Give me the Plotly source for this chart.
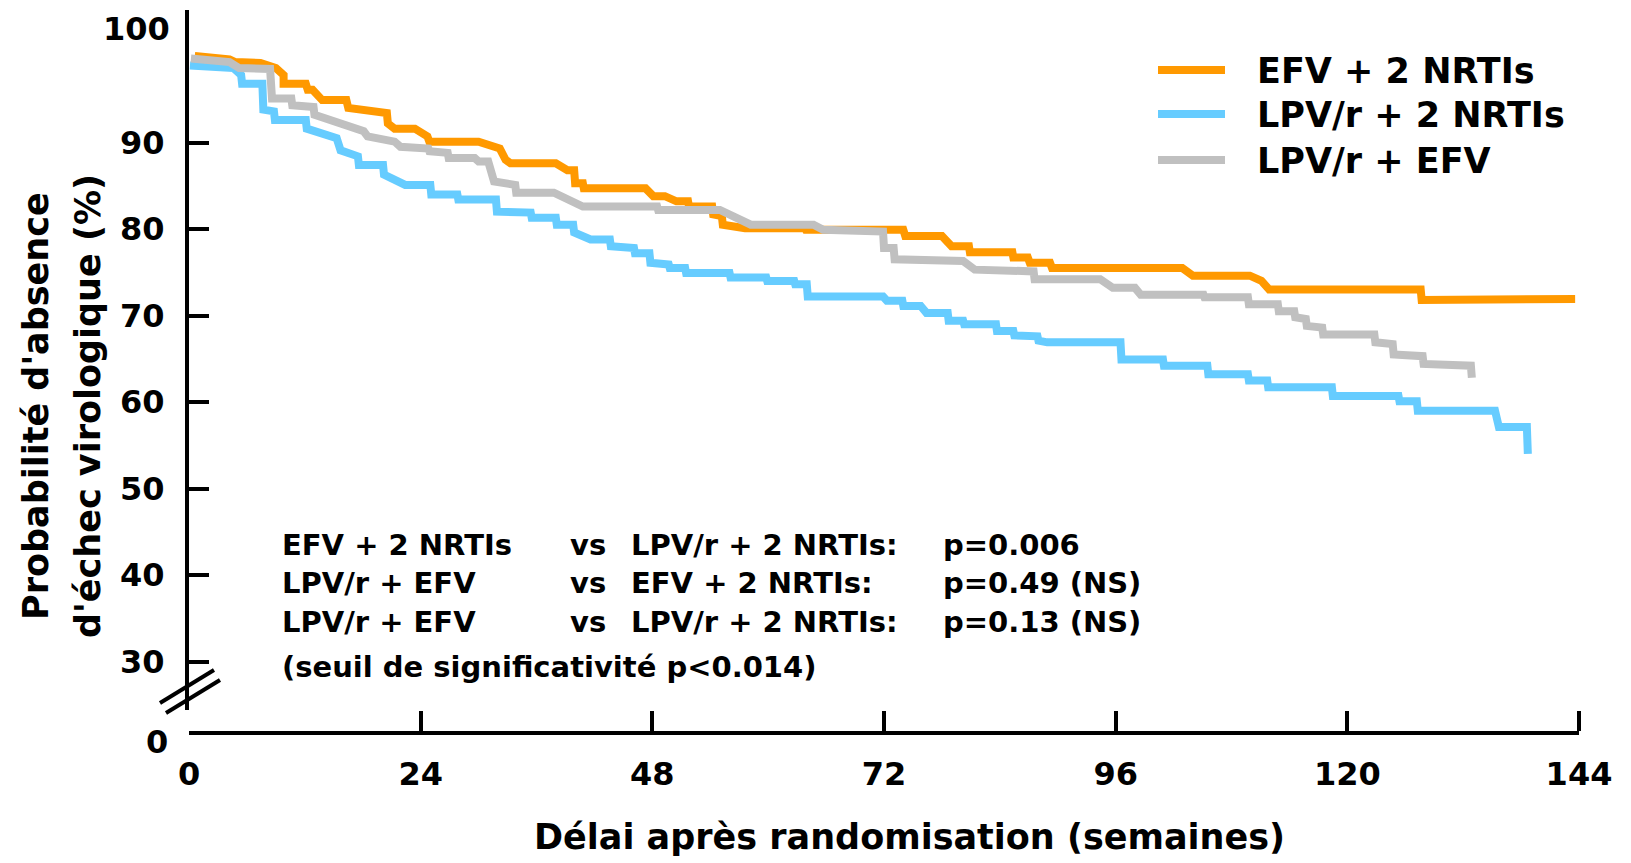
import plotly.graph_objects as go

# ---------------- data ----------------
efv_weeks = [0.6, 4.2, 4.8, 7.4, 9.0, 9.8, 9.8, 12.1, 12.3, 12.8, 13.8, 16.3, 16.5, 18.5, 20.5, 20.6, 21.3,
             23.4, 24.7, 24.9, 30.0, 32.2, 32.8, 33.3, 38.0, 39.2, 39.9, 40.0, 40.8, 40.9, 47.3, 48.1, 49.3,
             50.5, 51.7, 51.8, 54.2, 54.3, 55.2, 55.3, 57.6, 63.8, 63.9, 74.0, 74.2, 78.0, 79.0, 80.8, 80.9,
             85.3, 85.4, 86.9, 87.1, 89.2, 89.4, 102.9, 104.0, 109.9, 111.1, 111.9, 127.6, 127.7, 143.6]
efv_surv = [100.0, 99.6, 99.3, 99.2, 98.6, 97.8, 96.8, 96.8, 96.1, 96.1, 94.9, 94.9, 94.0, 93.6, 93.4, 92.2, 91.6,
            91.6, 90.7, 90.1, 90.1, 89.3, 88.0, 87.6, 87.6, 86.8, 86.8, 85.3, 85.3, 84.7, 84.7, 83.8, 83.8,
            83.2, 83.2, 82.6, 82.6, 81.7, 81.5, 80.5, 80.1, 80.1, 79.9, 79.9, 79.2, 79.2, 78.0, 78.0, 77.3,
            77.3, 76.7, 76.7, 76.1, 76.1, 75.5, 75.5, 74.6, 74.6, 74.0, 73.0, 73.0, 71.8, 71.9]

lpv_nrti_weeks = [0.1, 4.6, 5.4, 5.5, 7.6, 7.7, 8.8, 8.9, 12.1, 12.2, 15.3, 15.7, 17.5, 17.6, 20.1, 20.2, 22.4,
                  25.0, 25.1, 27.8, 27.9, 31.8, 31.9, 35.4, 35.5, 38.0, 38.1, 39.8, 39.9, 41.6, 43.6, 43.7,
                  46.1, 46.2, 47.7, 47.8, 49.7, 49.8, 51.4, 51.5, 56.0, 56.1, 59.8, 59.9, 62.7, 62.8, 64.0,
                  64.1, 71.9, 72.3, 73.9, 74.0, 75.8, 76.4, 78.6, 78.7, 80.2, 80.3, 83.6, 83.7, 85.4, 85.5,
                  87.9, 88.0, 88.9, 96.5, 96.6, 100.9, 101.0, 105.5, 105.6, 109.7, 109.8, 111.7, 111.8,
                  118.4, 118.5, 125.3, 125.4, 127.2, 127.3, 135.3, 135.7, 138.6, 138.7]
lpv_nrti_surv = [98.9, 98.6, 97.8, 96.8, 96.8, 93.8, 93.6, 92.6, 92.6, 91.6, 90.5, 89.1, 88.4, 87.4, 87.4, 86.3,
                 85.1, 85.1, 84.0, 84.0, 83.4, 83.4, 82.0, 81.9, 81.3, 81.3, 80.5, 80.5, 79.6, 78.8, 78.8,
                 78.0, 77.8, 77.2, 77.2, 76.1, 75.9, 75.5, 75.5, 74.9, 74.9, 74.4, 74.4, 74.0, 74.0, 73.6,
                 73.6, 72.2, 72.2, 71.7, 71.7, 71.1, 71.1, 70.3, 70.3, 69.4, 69.4, 69.0, 69.0, 68.2, 68.2,
                 67.7, 67.6, 67.1, 66.9, 66.9, 64.9, 64.9, 64.2, 64.2, 63.2, 63.2, 62.5, 62.5, 61.7, 61.7,
                 60.7, 60.7, 60.1, 60.1, 59.0, 59.0, 57.1, 57.1, 54.0]

lpv_efv_weeks = [0.2, 4.2, 5.2, 8.4, 8.6, 10.6, 10.7, 12.9, 13.0, 14.1, 18.1, 18.5, 21.3, 21.9, 24.8, 24.9,
                 26.8, 26.9, 29.6, 30.0, 31.0, 31.6, 33.8, 33.9, 37.8, 40.8, 48.5, 48.6, 55.0, 58.2, 64.7,
                 65.7, 71.9, 72.0, 73.0, 73.1, 80.2, 81.4, 87.5, 87.6, 94.4, 95.7, 98.0, 98.6, 105.1, 105.2,
                 109.7, 109.8, 112.8, 112.9, 114.5, 114.6, 115.7, 115.8, 117.4, 117.5, 122.8, 122.9, 124.7,
                 124.8, 127.8, 127.9, 132.8, 132.9]
lpv_efv_surv = [99.7, 99.3, 98.6, 98.5, 95.1, 95.1, 94.3, 94.1, 93.2, 92.8, 91.3, 90.7, 90.1, 89.5, 89.3, 89.0,
                88.8, 88.2, 88.2, 87.8, 87.8, 85.5, 85.1, 84.2, 84.2, 82.6, 82.6, 82.2, 82.2, 80.5, 80.5,
                79.9, 79.7, 77.8, 77.8, 76.5, 76.3, 75.3, 75.1, 74.2, 74.2, 73.2, 73.2, 72.4, 72.4, 72.1,
                72.1, 71.3, 71.3, 70.5, 70.5, 69.8, 69.6, 68.8, 68.6, 67.8, 67.8, 66.9, 66.7, 65.5, 65.3,
                64.4, 64.2, 62.8]

series_names = ["EFV + 2 NRTIs", "LPV/r + 2 NRTIs", "LPV/r + EFV"]
series_colors = ["#FF9900", "#66CCFF", "#C0C0C0"]

x_tickvals = [0, 24, 48, 72, 96, 120, 144]
y_tickvals = [30, 40, 50, 60, 70, 80, 90]

comparisons = [
    ["EFV + 2 NRTIs", "vs", "LPV/r + 2 NRTIs:", "p=0.006"],
    ["LPV/r + EFV", "vs", "EFV + 2 NRTIs:", "p=0.49 (NS)"],
    ["LPV/r + EFV", "vs", "LPV/r + 2 NRTIs:", "p=0.13 (NS)"],
]
threshold_note = "(seuil de significativité p<0.014)"

# ---------------- layout geometry (pixels) ----------------
W, H = 1631, 863
L, R, T, B = 189, 1579, 10, 733
FONT = "DejaVu Sans"


def px(x):
    return (x - L) / (R - L)


def py(y):
    return (B - y) / (B - T)


Y_AXIS_BOTTOM = 710
PX_PER_UNIT = 8.65
Y_AT_90 = 142.5
y_top_val = 90 + (Y_AT_90 - T) / PX_PER_UNIT
y_bot_val = 90 - (Y_AXIS_BOTTOM - Y_AT_90) / PX_PER_UNIT

fig = go.Figure()
data = [(efv_weeks, efv_surv), (lpv_nrti_weeks, lpv_nrti_surv), (lpv_efv_weeks, lpv_efv_surv)]
for i in [0, 1, 2]:
    xs, ys = data[i]
    fig.add_trace(go.Scatter(x=xs, y=ys, mode="lines", name=series_names[i],
                             line=dict(color=series_colors[i], width=8),
                             showlegend=False, hoverinfo="skip"))

bold = dict(family=FONT, color="black", weight="bold")

fig.update_layout(
    width=W, height=H,
    margin=dict(l=L, r=W - R, t=T, b=H - B),
    paper_bgcolor="white", plot_bgcolor="white",
    xaxis=dict(range=[0, 144], domain=[0, 1], anchor="free", position=0,
               showline=True, linewidth=4, linecolor="black", showgrid=False, zeroline=False,
               tickvals=x_tickvals, ticktext=[str(v) for v in x_tickvals], ticks="",
               ticklabelstandoff=12,
               minor=dict(tickvals=x_tickvals[1:], ticks="inside", ticklen=20, tickwidth=4,
                          tickcolor="black", showgrid=False),
               tickfont=dict(size=32, **bold)),
    yaxis=dict(range=[y_bot_val, y_top_val], domain=[py(Y_AXIS_BOTTOM), 1],
               showline=True, linewidth=4, linecolor="black", showgrid=False, zeroline=False,
               tickvals=y_tickvals, ticks="inside", ticklen=20, tickwidth=4, tickcolor="black",
               ticklabelstandoff=14,
               tickfont=dict(size=32, **bold)),
)

ann = []
# stray axis labels of the broken axis
ann.append(dict(text="100", xref="paper", yref="paper", x=px(172), y=py(29), xanchor="right",
                yanchor="middle", showarrow=False, font=dict(size=32, **bold)))
ann.append(dict(text="0", xref="paper", yref="paper", x=px(157), y=py(742), xanchor="center",
                yanchor="middle", showarrow=False, font=dict(size=32, **bold)))
# axis titles
ann.append(dict(text="Délai après randomisation (semaines)", xref="paper", yref="paper",
                x=px(910), y=py(837), xanchor="center", yanchor="middle", showarrow=False,
                font=dict(size=35, **bold)))
ann.append(dict(text="Probabilité d'absence", xref="paper", yref="paper", x=px(36), y=py(406),
                xanchor="center", yanchor="middle", textangle=-90, showarrow=False,
                font=dict(size=35, **bold)))
ann.append(dict(text="d'échec virologique (%)", xref="paper", yref="paper", x=px(88), y=py(406),
                xanchor="center", yanchor="middle", textangle=-90, showarrow=False,
                font=dict(size=35, **bold)))
# comparison block
col_x = [280, 568, 629, 941]
row_y = [545, 583, 622]
for r, row in enumerate(comparisons):
    for c, txt in enumerate(row):
        ann.append(dict(text=txt, xref="paper", yref="paper", x=px(col_x[c]), y=py(row_y[r]),
                        xanchor="left", yanchor="middle", showarrow=False, font=dict(size=29, **bold)))
ann.append(dict(text=threshold_note, xref="paper", yref="paper", x=px(280), y=py(667),
                xanchor="left", yanchor="middle", showarrow=False, font=dict(size=29, **bold)))

# legend (drawn manually)
leg_y = [70, 114, 160]
shapes = []
for i in range(3):
    shapes.append(dict(type="line", xref="paper", yref="paper", x0=px(1158), x1=px(1225),
                       y0=py(leg_y[i]), y1=py(leg_y[i]),
                       line=dict(color=series_colors[i], width=8)))
    ann.append(dict(text=series_names[i], xref="paper", yref="paper", x=px(1255), y=py(leg_y[i] + 1),
                    xanchor="left", yanchor="middle", showarrow=False, font=dict(size=35, **bold)))

# axis break marks
for (x0, y0, x1, y1) in [(160, 703, 214, 670), (166, 713, 220, 680)]:
    shapes.append(dict(type="line", xref="paper", yref="paper", x0=px(x0), y0=py(y0),
                       x1=px(x1), y1=py(y1), line=dict(color="black", width=4)))

fig.update_layout(annotations=ann, shapes=shapes)
fig.write_html("out.html")
